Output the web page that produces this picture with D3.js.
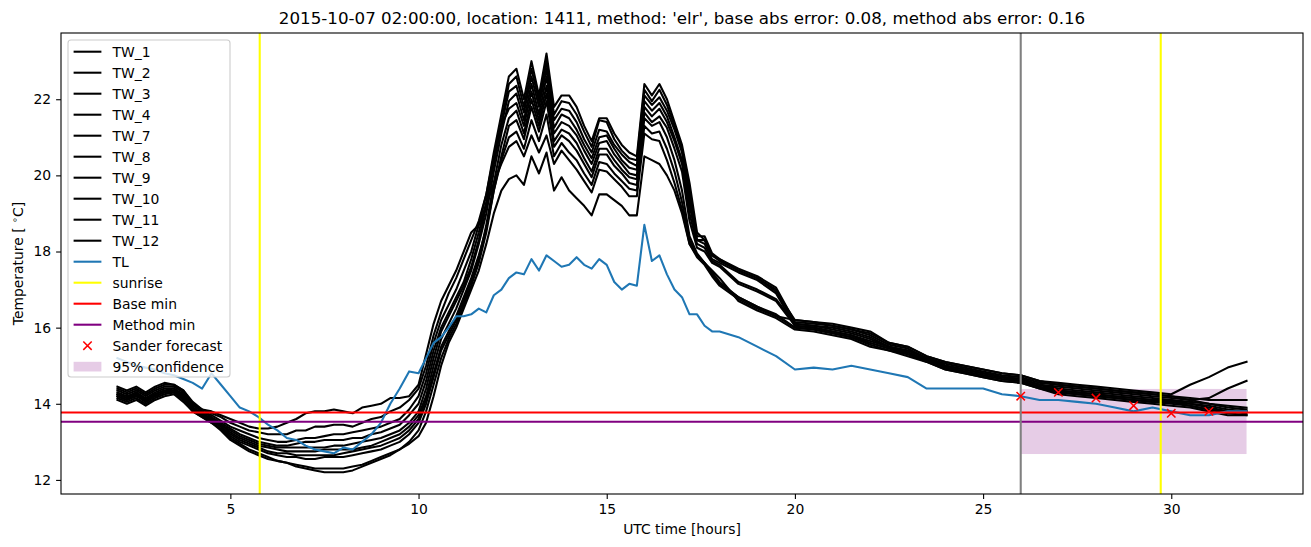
<!DOCTYPE html>
<html><head><meta charset="utf-8">
<script src="https://cdn.jsdelivr.net/npm/d3@7"></script>
<style>body{margin:0;background:#fff} svg{display:block;font-family:"DejaVu Sans",sans-serif}</style>
</head><body><svg id="c" width="1311" height="547"></svg>
<script>
const titleText = "2015-10-07 02:00:00, location: 1411, method: 'elr', base abs error: 0.08, method abs error: 0.16";
const hours = [2,2.25,2.5,2.75,3,3.25,3.5,3.75,4,4.25,4.5,4.75,5,5.25,5.5,5.75,6,6.25,6.5,6.75,7,7.25,7.5,7.75,8,8.25,8.5,8.75,9,9.25,9.5,9.75,
10,10.2,10.4,10.6,10.8,11,11.2,11.4,11.6,11.8,12,12.2,12.4,12.6,12.8,13,13.2,13.4,13.6,13.8,14,14.2,14.4,14.6,14.8,15,15.2,15.4,15.6,15.8,16,16.2,16.4,16.6,16.8,17,17.2,17.4,17.6,17.8,18,
18.5,19,19.5,20,20.5,21,21.5,22,22.5,23,23.5,24,24.5,25,25.5,26,26.5,27,27.5,28,28.5,29,29.5,30,30.5,31,31.5,32];

const TW_1 = [14.35,14.25,14.35,14.2,14.35,14.45,14.45,14.3,14.0,13.8,13.7,13.55,13.4,13.3,13.2,13.1,13.05,13.0,13.0,13.05,13.1,13.1,13.15,13.2,13.2,13.25,13.3,13.35,13.4,13.5,13.6,13.85,
14.2,14.8,15.6,16.2,16.6,17.0,17.5,18.0,18.7,19.5,20.6,21.6,22.6,22.8,22.0,23.0,22.1,23.2,21.8,22.1,22.1,21.8,21.3,20.9,21.5,21.5,21.1,20.8,20.6,20.5,22.4,22.1,22.4,22.0,21.4,20.8,19.8,18.5,18.3,17.9,17.8,
17.55,17.35,17.05,16.15,16.1,16.05,15.95,15.8,15.55,15.45,15.2,15.05,14.95,14.85,14.75,14.7,14.55,14.5,14.45,14.4,14.35,14.3,14.25,14.2,14.15,14.1,14.1,14.1];
const TW_2 = [14.25,14.15,14.3,14.1,14.25,14.35,14.4,14.2,13.9,13.75,13.6,13.45,13.3,13.15,13.05,12.95,12.9,12.85,12.85,12.85,12.85,12.85,12.85,12.9,12.9,12.95,13.0,13.05,13.1,13.2,13.3,13.5,
13.8,14.4,15.2,15.9,16.3,16.7,17.1,17.6,18.3,19.2,20.4,21.4,22.4,22.6,21.8,22.8,21.95,23.0,21.6,21.95,21.9,21.6,21.15,20.75,21.45,21.4,20.95,20.65,20.45,20.4,22.25,21.95,22.25,21.85,21.3,20.7,19.6,18.4,18.4,17.95,17.8,
17.5,17.3,17.0,16.1,16.05,15.95,15.85,15.7,15.5,15.4,15.2,15.0,14.9,14.8,14.7,14.65,14.5,14.4,14.35,14.3,14.25,14.2,14.15,14.1,14.05,14.0,13.9,13.85];
const TW_3 = [14.4,14.3,14.4,14.25,14.4,14.5,14.5,14.35,14.05,13.85,13.75,13.65,13.5,13.4,13.3,13.25,13.2,13.2,13.2,13.3,13.3,13.4,13.4,13.45,13.45,13.4,13.5,13.6,13.65,13.8,13.9,14.1,
14.4,15.0,15.8,16.4,16.9,17.3,17.8,18.3,18.8,19.5,20.5,21.3,22.2,22.35,21.65,22.6,21.8,22.8,21.45,21.75,21.7,21.4,20.95,20.6,21.2,21.15,20.8,20.55,20.35,20.25,22.1,21.85,22.05,21.7,21.2,20.6,19.4,18.3,18.3,17.9,17.75,
17.5,17.3,16.95,16.2,16.15,16.05,15.95,15.85,15.6,15.5,15.25,15.1,15.0,14.9,14.8,14.75,14.6,14.5,14.45,14.4,14.35,14.3,14.25,14.2,14.1,14.15,14.4,14.6];
const TW_4 = [14.25,14.15,14.25,14.1,14.25,14.35,14.35,14.2,13.9,13.75,13.6,13.45,13.25,13.1,13.0,12.9,12.85,12.8,12.75,12.75,12.75,12.75,12.8,12.8,12.8,12.8,12.85,12.9,13.0,13.1,13.2,13.4,
13.7,14.2,15.0,15.7,16.1,16.5,17.0,17.5,18.2,19.0,20.1,21.1,21.95,22.15,21.45,22.4,21.6,22.6,21.25,21.6,21.5,21.2,20.8,20.45,21.0,21.05,20.7,20.4,20.2,20.15,21.95,21.7,21.9,21.55,21.0,20.4,19.2,18.3,18.2,17.8,17.7,
17.45,17.25,16.9,16.05,16.0,15.9,15.8,15.65,15.5,15.35,15.15,15.0,14.9,14.8,14.7,14.65,14.5,14.35,14.3,14.25,14.2,14.15,14.1,14.1,14.0,13.95,13.85,13.8];
const TW_7 = [14.3,14.2,14.3,14.15,14.3,14.4,14.4,14.25,13.95,13.8,13.65,13.5,13.35,13.2,13.1,13.0,12.95,12.9,12.9,12.95,13.0,13.0,13.05,13.05,13.05,13.1,13.1,13.2,13.25,13.35,13.45,13.7,
14.0,14.6,15.4,16.0,16.4,16.8,17.2,17.8,18.5,19.3,20.3,21.3,21.75,21.9,21.3,22.2,21.45,22.35,21.1,21.4,21.3,21.05,20.65,20.3,20.85,20.9,20.55,20.3,20.05,20.0,21.8,21.55,21.75,21.4,20.9,20.3,19.0,18.2,18.1,17.75,17.65,
17.2,17.0,16.75,16.1,16.05,16.0,15.9,15.75,15.5,15.4,15.2,15.0,14.9,14.8,14.7,14.65,14.5,14.45,14.4,14.35,14.3,14.25,14.2,14.15,14.1,14.0,13.95,13.9];
const TW_8 = [14.2,14.1,14.2,14.05,14.2,14.3,14.3,14.15,13.85,13.7,13.55,13.4,13.15,13.0,12.9,12.8,12.7,12.65,12.6,12.6,12.55,12.55,12.6,12.6,12.6,12.65,12.7,12.75,12.8,12.9,13.0,13.2,
13.5,14.0,14.7,15.4,15.8,16.2,16.7,17.2,17.8,18.7,19.8,20.8,21.5,21.7,21.1,22.0,21.3,22.15,20.9,21.2,21.1,20.85,20.45,20.1,20.7,20.7,20.4,20.15,19.95,19.9,21.65,21.4,21.55,21.25,20.7,20.1,18.8,18.1,18.0,17.7,17.6,
17.15,16.95,16.7,16.05,16.0,15.9,15.8,15.6,15.45,15.35,15.15,14.95,14.85,14.75,14.65,14.6,14.45,14.35,14.3,14.25,14.2,14.15,14.1,14.05,14.0,13.9,13.8,13.75];
const TW_9 = [14.15,14.05,14.15,14.0,14.15,14.25,14.3,14.1,13.8,13.65,13.5,13.35,13.1,12.95,12.8,12.7,12.6,12.5,12.45,12.4,12.35,12.3,12.3,12.3,12.3,12.35,12.4,12.5,12.6,12.7,12.8,13.0,
13.3,13.8,14.5,15.2,15.7,16.1,16.6,17.1,17.7,18.5,19.6,20.5,21.3,21.45,20.95,21.8,21.15,21.95,20.75,21.05,20.9,20.65,20.3,19.95,20.55,20.55,20.25,20.05,19.8,19.75,21.5,21.3,21.4,21.0,20.4,19.6,18.4,17.95,17.7,17.45,17.2,
16.8,16.55,16.35,16.0,15.95,15.85,15.75,15.55,15.4,15.3,15.1,14.9,14.8,14.7,14.6,14.55,14.4,14.3,14.25,14.2,14.15,14.1,14.05,14.0,13.95,13.85,13.75,13.7];
const TW_10 = [14.2,14.1,14.25,14.05,14.2,14.3,14.35,14.15,13.85,13.7,13.55,13.4,13.2,13.05,12.95,12.85,12.75,12.7,12.7,12.65,12.65,12.65,12.65,12.65,12.7,12.75,12.8,12.85,12.9,13.0,13.1,13.3,
13.6,14.1,14.8,15.5,15.9,16.3,16.8,17.3,17.9,18.6,19.6,20.4,21.0,21.15,20.7,21.45,20.9,21.6,20.5,20.85,20.6,20.4,20.05,19.75,20.35,20.3,20.05,19.85,19.65,19.6,21.3,21.1,21.15,20.7,20.1,19.3,18.3,17.9,17.7,17.4,17.15,
16.8,16.55,16.3,16.0,15.95,15.85,15.75,15.6,15.45,15.3,15.15,14.95,14.85,14.75,14.65,14.6,14.45,14.3,14.25,14.2,14.15,14.1,14.05,14.05,13.95,13.85,13.8,13.8];
const TW_11 = [14.45,14.35,14.45,14.3,14.45,14.55,14.5,14.35,14.0,13.85,13.8,13.7,13.6,13.5,13.4,13.35,13.35,13.4,13.5,13.6,13.75,13.8,13.8,13.85,13.8,13.75,13.9,13.95,14.0,14.15,14.15,14.2,
14.5,15.3,16.1,16.7,17.1,17.5,18.0,18.5,18.7,19.2,19.8,20.3,20.75,20.9,20.5,21.05,20.6,21.05,20.3,20.65,20.4,20.15,19.85,19.55,20.15,20.1,19.9,19.7,19.45,19.45,21.1,20.95,20.9,20.4,19.8,19.1,18.2,17.85,17.65,17.35,17.1,
16.75,16.5,16.3,16.2,16.15,16.1,16.0,15.9,15.6,15.5,15.25,15.1,15.0,14.9,14.8,14.75,14.6,14.55,14.5,14.45,14.4,14.35,14.3,14.25,14.5,14.7,14.95,15.1];
const TW_12 = [14.1,14.0,14.1,13.95,14.1,14.2,14.25,14.05,13.8,13.65,13.5,13.3,13.05,12.9,12.75,12.65,12.55,12.5,12.45,12.35,12.3,12.25,12.2,12.2,12.2,12.25,12.35,12.45,12.55,12.65,12.8,12.95,
13.15,13.5,14.2,15.0,15.6,16.0,16.5,17.0,17.5,18.2,19.0,19.6,19.9,20.0,19.75,20.5,20.05,20.6,19.6,19.95,19.6,19.4,19.2,18.95,19.5,19.5,19.35,19.2,18.95,18.95,20.5,20.4,20.3,20.0,19.6,19.0,18.2,17.9,17.7,17.5,17.3,
16.7,16.45,16.25,15.95,15.9,15.8,15.7,15.5,15.4,15.25,15.1,14.9,14.8,14.7,14.6,14.55,14.4,14.25,14.2,14.15,14.1,14.05,14.0,13.95,13.9,13.8,13.7,13.7];
const TL = [15.2,15.1,15.0,14.95,14.9,14.8,14.75,14.65,14.55,14.4,14.8,14.5,14.2,13.9,13.8,13.65,13.45,13.3,13.1,13.05,12.9,12.8,12.75,12.7,12.85,12.8,13.0,13.2,13.5,14.0,14.4,14.85,
14.8,15.2,15.6,15.75,16.0,16.3,16.3,16.35,16.5,16.4,16.85,17.0,17.3,17.45,17.4,17.8,17.5,17.9,17.75,17.6,17.65,17.85,17.65,17.55,17.8,17.65,17.2,17.0,17.15,17.1,18.7,17.75,17.9,17.4,17.0,16.8,16.35,16.35,16.05,15.9,15.9,
15.75,15.5,15.25,14.9,14.95,14.9,15.0,14.9,14.8,14.7,14.4,14.4,14.4,14.4,14.25,14.2,14.1,14.1,14.05,14.0,13.9,13.8,13.9,13.8,13.7,13.7,13.8,13.8];

const twNames = ["TW_1","TW_2","TW_3","TW_4","TW_7","TW_8","TW_9","TW_10","TW_11","TW_12"];
const twValues = [TW_1,TW_2,TW_3,TW_4,TW_7,TW_8,TW_9,TW_10,TW_11,TW_12];
const sunrise = [5.78, 29.72];
const baseMin = 13.77;
const methodMin = 13.53;
const forecastStart = 26;
const forecastHours = [26, 27, 28, 29, 30, 31];
const forecastValues = [14.2, 14.3, 14.15, 13.95, 13.75, 13.8];
const confHours = [26, 32];
const confRange = [12.68, 14.39];
const xTicks = [5, 10, 15, 20, 25, 30];
const yTicks = [12, 14, 16, 18, 20, 22];
const legendLabels = ["TW_1","TW_2","TW_3","TW_4","TW_7","TW_8","TW_9","TW_10","TW_11","TW_12","TL","sunrise","Base min","Method min","Sander forecast","95% confidence"];

const svg = d3.select("#c");
const L = 61, R = 1303, T = 33, B = 494;
const x = d3.scaleLinear().domain([0.5, 33.5]).range([L, R]);
const y = d3.scaleLinear().domain([11.63, 23.74]).range([B, T]);
const FS = 13.9;

svg.append("defs").append("clipPath").attr("id","clip").append("rect")
  .attr("x", L).attr("y", T).attr("width", R-L).attr("height", B-T);
const g = svg.append("g").attr("clip-path","url(#clip)");

g.append("rect").attr("x", x(confHours[0])).attr("width", x(confHours[1]) - x(confHours[0]))
  .attr("y", y(confRange[1])).attr("height", y(confRange[0]) - y(confRange[1]))
  .attr("fill", "#800080").attr("fill-opacity", 0.2);

const line = d3.line().x((d,i)=>x(hours[i])).y(d=>y(d));
twValues.forEach(vals => {
  g.append("path").attr("d", line(vals)).attr("fill","none").attr("stroke","#000")
   .attr("stroke-width", 2.08).attr("stroke-linejoin","round").attr("stroke-linecap","square");
});
g.append("path").attr("d", line(TL)).attr("fill","none").attr("stroke","#1f77b4")
  .attr("stroke-width", 2.08).attr("stroke-linejoin","round").attr("stroke-linecap","square");

sunrise.forEach(s => g.append("line").attr("x1", x(s)).attr("x2", x(s)).attr("y1", T).attr("y2", B)
  .attr("stroke", "#ffff00").attr("stroke-width", 2.08));
g.append("line").attr("x1", L).attr("x2", R).attr("y1", y(baseMin)).attr("y2", y(baseMin)).attr("stroke","#ff0000").attr("stroke-width",2.08);
g.append("line").attr("x1", L).attr("x2", R).attr("y1", y(methodMin)).attr("y2", y(methodMin)).attr("stroke","#800080").attr("stroke-width",2.08);
g.append("line").attr("x1", x(forecastStart)).attr("x2", x(forecastStart)).attr("y1", T).attr("y2", B).attr("stroke","#808080").attr("stroke-width",2.08);

function xMark(sel, cx, cy, s) {
  sel.append("path").attr("d", `M${cx-s},${cy-s}L${cx+s},${cy+s}M${cx-s},${cy+s}L${cx+s},${cy-s}`)
    .attr("stroke","#ff0000").attr("stroke-width",1.5).attr("fill","none");
}
forecastHours.forEach((h,i) => xMark(g, x(h), y(forecastValues[i]), 4.2));

const xAxis = svg.append("g").attr("transform", `translate(0,${B})`)
  .call(d3.axisBottom(x).tickValues(xTicks).tickSize(4.9).tickPadding(4.9).tickFormat(d3.format("d")));
const yAxis = svg.append("g").attr("transform", `translate(${L},0)`)
  .call(d3.axisLeft(y).tickValues(yTicks).tickSize(4.9).tickPadding(4.9).tickFormat(d3.format("d")));
[xAxis, yAxis].forEach(a => {
  a.select(".domain").remove();
  a.selectAll("line").attr("stroke","#000").attr("stroke-width",1.1);
  a.selectAll("text").attr("font-size", FS).attr("font-family","DejaVu Sans").attr("fill","#000");
});
svg.append("rect").attr("x", L).attr("y", T).attr("width", R-L).attr("height", B-T)
  .attr("fill","none").attr("stroke","#000").attr("stroke-width",1.1);

svg.append("text").attr("x", (L+R)/2).attr("y", 24).attr("text-anchor","middle")
  .attr("font-size", 16.7).text(titleText);
svg.append("text").attr("x", (L+R)/2).attr("y", 534).attr("text-anchor","middle")
  .attr("font-size", FS).text("UTC time [hours]");
const yl = svg.append("text").attr("transform", `translate(23,${(T+B)/2}) rotate(-90)`)
  .attr("text-anchor","middle").attr("font-size", FS);
yl.append("tspan").text("Temperature [ ");
yl.append("tspan").attr("dy", -5).attr("font-size", 9.7).text("\u2218");
yl.append("tspan").attr("dy", 5).text("C]");

const lg = svg.append("g");
const lx = 68, ly = 40, rowH = 21.0, lw = 162, lh = 337;
lg.append("rect").attr("x", lx).attr("y", ly).attr("width", lw).attr("height", lh)
  .attr("rx", 3).attr("fill","#fff").attr("fill-opacity",0.8).attr("stroke","#cccccc").attr("stroke-width",1.1);
const legendColors = ["#000","#000","#000","#000","#000","#000","#000","#000","#000","#000","#1f77b4","#ffff00","#ff0000","#800080"];
legendLabels.forEach((lab, i) => {
  const cy = ly + 11.7 + i*rowH;
  const hx0 = lx + 5.6, hx1 = hx0 + 27.8;
  if (i < 14) lg.append("line").attr("x1",hx0).attr("x2",hx1).attr("y1",cy).attr("y2",cy).attr("stroke",legendColors[i]).attr("stroke-width",2.08);
  else if (i === 14) xMark(lg, (hx0+hx1)/2, cy, 4.2);
  else lg.append("rect").attr("x",hx0).attr("y",cy-4.9).attr("width",27.8).attr("height",9.7).attr("fill","#800080").attr("fill-opacity",0.2);
  lg.append("text").attr("x", hx1 + 11.1).attr("y", cy + 5).attr("font-size", FS).attr("fill","#000").text(lab);
});
</script>
</body></html>
